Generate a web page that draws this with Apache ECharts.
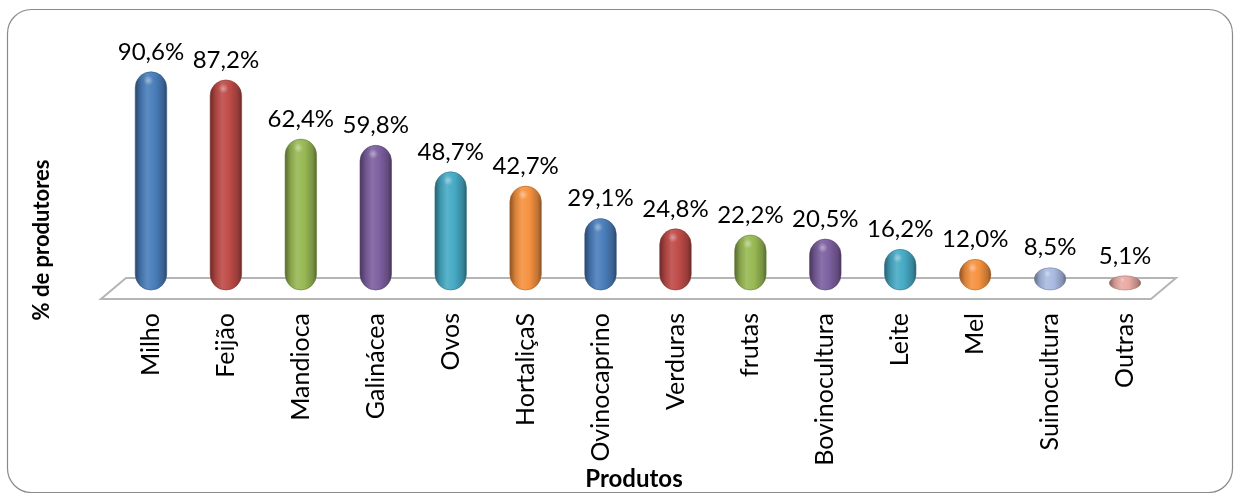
<!DOCTYPE html>
<html>
<head>
<meta charset="utf-8">
<script src="https://cdn.jsdelivr.net/npm/echarts@6/dist/echarts.min.js"></script>
<style>
  html, body { margin: 0; padding: 0; background: #ffffff; }
  #chart { width: 1234px; height: 493px; }
</style>
</head>
<body>
<div id="chart"></div>
<script>
// Produtos cultivados / criados e percentual de produtores
const categories = ['Milho', 'Feijão', 'Mandioca', 'Galinácea', 'Ovos', 'HortaliçaS', 'Ovinocaprino',
  'Verduras', 'frutas', 'Bovinocultura', 'Leite', 'Mel', 'Suinocultura', 'Outras'];
const percentages = [90.6, 87.2, 62.4, 59.8, 48.7, 42.7, 29.1, 24.8, 22.2, 20.5, 16.2, 12.0, 8.5, 5.1];
const yAxisTitle = '% de produtores';
const xAxisTitle = 'Produtos';

// one colour per bar
const barColors = ['#4a7ebb', '#be4b48', '#98b954', '#7d60a0', '#46aac5', '#f69240',
  '#4a7ebb', '#be4b48', '#98b954', '#7d60a0', '#46aac5', '#f69240', '#a9bbe2', '#e9aaa4'];

const FONT = 'Lato, "Open Sans", sans-serif';

function mix(hex, target, t) {
  const n = parseInt(hex.slice(1), 16);
  const r = (n >> 16) & 255, g = (n >> 8) & 255, b = n & 255;
  const c = [r, g, b].map(v => Math.round(v + (target - v) * t));
  return 'rgb(' + c.join(',') + ')';
}

function formatPct(v) {
  return v.toFixed(1).replace('.', ',') + '%';
}

function renderCylinder(params, api) {
  const idx = api.value(0);
  const val = api.value(1);
  const top = api.coord([idx, val]);
  const base = api.coord([idx, 0]);
  const w = api.size([1, 0])[0] * 0.42;
  const cx = top[0];
  const x0 = cx - w / 2, x1 = cx + w / 2;
  const yTop = top[1];
  const yBot = base[1] + 2;
  const h = yBot - yTop;
  const rx = w / 2;
  const ry = Math.min(w / 2, h / 2);
  const body = 'M' + x0 + ',' + (yTop + ry) +
    ' A' + rx + ',' + ry + ' 0 0 1 ' + x1 + ',' + (yTop + ry) +
    ' L' + x1 + ',' + (yBot - ry) +
    ' A' + rx + ',' + ry + ' 0 0 1 ' + x0 + ',' + (yBot - ry) + ' Z';
  const col = barColors[idx % barColors.length];
  const fill = new echarts.graphic.LinearGradient(0, 0, 1, 0, [
    { offset: 0, color: mix(col, 0, 0.45) },
    { offset: 0.18, color: mix(col, 0, 0.12) },
    { offset: 0.38, color: mix(col, 255, 0.1) },
    { offset: 0.62, color: col },
    { offset: 0.88, color: mix(col, 0, 0.22) },
    { offset: 1, color: mix(col, 0, 0.45) }
  ]);
  const hx = cx - w * 0.08, hy = yTop + ry * 0.55;
  const hrx = w * 0.22, hry = Math.max(2, ry * 0.32);
  const glow = 'M' + (hx - hrx) + ',' + hy +
    ' A' + hrx + ',' + hry + ' 0 1 1 ' + (hx + hrx) + ',' + hy +
    ' A' + hrx + ',' + hry + ' 0 1 1 ' + (hx - hrx) + ',' + hy + ' Z';
  return {
    type: 'group',
    children: [
      { type: 'path', shape: { pathData: body }, style: { fill: fill, stroke: mix(col, 0, 0.3), lineWidth: 0.6 } },
      {
        type: 'path', shape: { pathData: glow },
        style: {
          fill: new echarts.graphic.RadialGradient(0.5, 0.5, 0.5, [
            { offset: 0, color: 'rgba(255,255,255,0.4)' },
            { offset: 1, color: 'rgba(255,255,255,0)' }
          ])
        }
      },
      {
        type: 'text',
        style: {
          text: formatPct(val), x: cx, y: yTop - 8,
          align: 'center', verticalAlign: 'bottom',
          fontSize: 24, fontFamily: FONT, fill: '#000000'
        }
      }
    ]
  };
}

const chart = echarts.init(document.getElementById('chart'), null, { renderer: 'canvas' });

chart.setOption({
  animation: false,
  backgroundColor: '#ffffff',
  grid: { left: 113.5, right: 71.5, top: 49.4, bottom: 205 },
  xAxis: {
    type: 'category',
    data: categories,
    boundaryGap: true,
    axisLine: { show: false },
    axisTick: { show: false },
    axisLabel: {
      interval: 0, rotate: 90, margin: 25,
      fontSize: 25, fontFamily: FONT, color: '#000000'
    }
  },
  yAxis: { type: 'value', min: 0, max: 100, show: false },
  graphic: [
    {
      type: 'rect', z: 0,
      shape: { x: 7.5, y: 9.5, width: 1225, height: 483, r: 24 },
      style: { fill: 'none', stroke: '#8a8a8a', lineWidth: 1.2 }
    },
    {
      type: 'polygon', z: 0,
      shape: { points: [[126, 278], [1176, 278], [1151, 299], [101, 299]] },
      style: { fill: '#ffffff', stroke: '#b5b5b5', lineWidth: 2 }
    },
    {
      type: 'text', z: 5, x: 42, y: 240, rotation: Math.PI / 2,
      style: {
        text: yAxisTitle, align: 'center', verticalAlign: 'middle',
        fontSize: 22, fontWeight: 'bold', fontFamily: FONT, fill: '#000000'
      }
    },
    {
      type: 'text', z: 5, x: 634, y: 479,
      style: {
        text: xAxisTitle, align: 'center', verticalAlign: 'middle',
        fontSize: 24, fontWeight: 'bold', fontFamily: FONT, fill: '#000000'
      }
    }
  ],
  series: [{
    type: 'custom',
    renderItem: renderCylinder,
    data: percentages.map((v, i) => [i, v]),
    encode: { x: 0, y: 1 },
    z: 3,
    clip: false
  }]
});
</script>
</body>
</html>
